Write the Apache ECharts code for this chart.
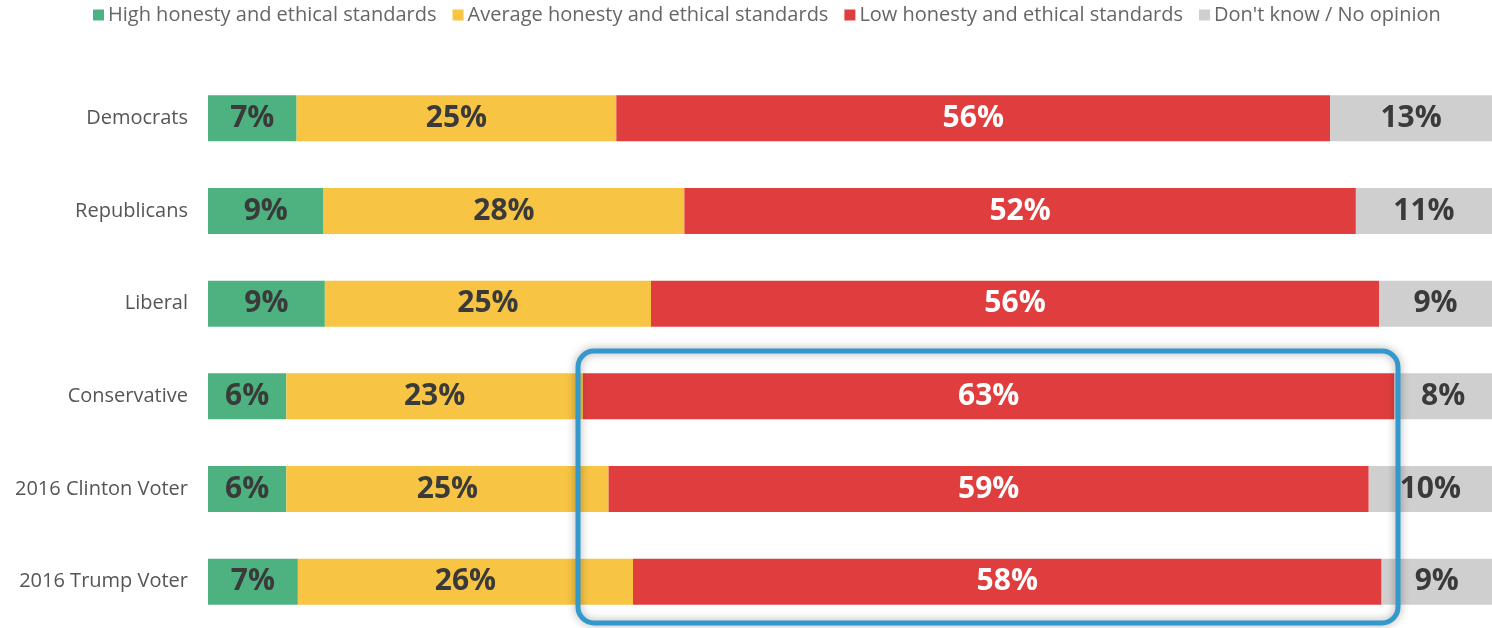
<!DOCTYPE html>
<html>
<head>
<meta charset="utf-8">
<script src="https://cdn.jsdelivr.net/npm/echarts@6/dist/echarts.min.js"></script>
<style>
  html, body { margin: 0; padding: 0; background: #fff; }
  #chart { width: 1492px; height: 628px; }
</style>
</head>
<body>
<div id="chart"></div>
<script>
// groups, top to bottom
const groups = ['Democrats', 'Republicans', 'Liberal', 'Conservative', '2016 Clinton Voter', '2016 Trump Voter'];

// bar lengths (share of the row, %)
const high = [6.9, 9.0, 9.1, 6.1, 6.1, 7.0];
const average = [24.9, 28.1, 25.4, 23.1, 25.1, 26.1];
const low = [55.6, 52.3, 56.7, 63.2, 59.2, 58.3];
const dontKnow = [12.6, 10.6, 8.8, 7.6, 9.6, 8.6];

// printed labels
const highLbl = [7, 9, 9, 6, 6, 7];
const averageLbl = [25, 28, 25, 23, 25, 26];
const lowLbl = [56, 52, 56, 63, 59, 58];
const dontKnowLbl = [13, 11, 9, 8, 10, 9];

const names = ['High honesty and ethical standards', 'Average honesty and ethical standards',
  'Low honesty and ethical standards', "Don't know / No opinion"];
const colors = ['#4db27f', '#f7c444', '#e03e3e', '#cfcfcf'];

const FONT = '"Open Sans", sans-serif';

function makeSeries(i, vals, lbls, txtColor) {
  return {
    name: names[i],
    type: 'bar',
    stack: 'total',
    barWidth: 46,
    itemStyle: { color: colors[i] },
    label: {
      show: true,
      position: 'inside',
      color: txtColor,
      fontFamily: FONT,
      fontWeight: 'bold',
      fontSize: 30,
      formatter: p => lbls[p.dataIndex] + '%'
    },
    emphasis: { disabled: true },
    data: vals
  };
}

var myChart = echarts.init(document.getElementById('chart'));
myChart.setOption({
  animation: false,
  color: colors,
  legend: {
    left: 88,
    top: 0,
    itemWidth: 11,
    itemHeight: 11,
    itemGap: 16,
    icon: 'rect',
    textStyle: { color: '#666', fontSize: 20, fontFamily: FONT, padding: [0, 0, 0, -1] },
    data: names
  },
  grid: { left: 208, right: 0, top: 72, bottom: 0 },
  xAxis: {
    type: 'value',
    min: 0,
    max: 100,
    show: false
  },
  yAxis: {
    type: 'category',
    inverse: true,
    data: groups,
    axisLine: { show: false },
    axisTick: { show: false },
    axisLabel: { color: '#555', fontSize: 20, fontFamily: FONT, margin: 20 }
  },
  series: [
    makeSeries(0, high, highLbl, '#3a3a3a'),
    makeSeries(1, average, averageLbl, '#3a3a3a'),
    makeSeries(2, low, lowLbl, '#ffffff'),
    makeSeries(3, dontKnow, dontKnowLbl, '#3a3a3a')
  ],
  graphic: [{
    type: 'rect',
    z: 100,
    shape: { x: 578, y: 351, width: 820, height: 272, r: 16 },
    style: {
      fill: 'none',
      stroke: '#3399cc',
      lineWidth: 5,
      shadowBlur: 8,
      shadowColor: 'rgba(0,0,0,0.35)'
    }
  }]
});
</script>
</body>
</html>
